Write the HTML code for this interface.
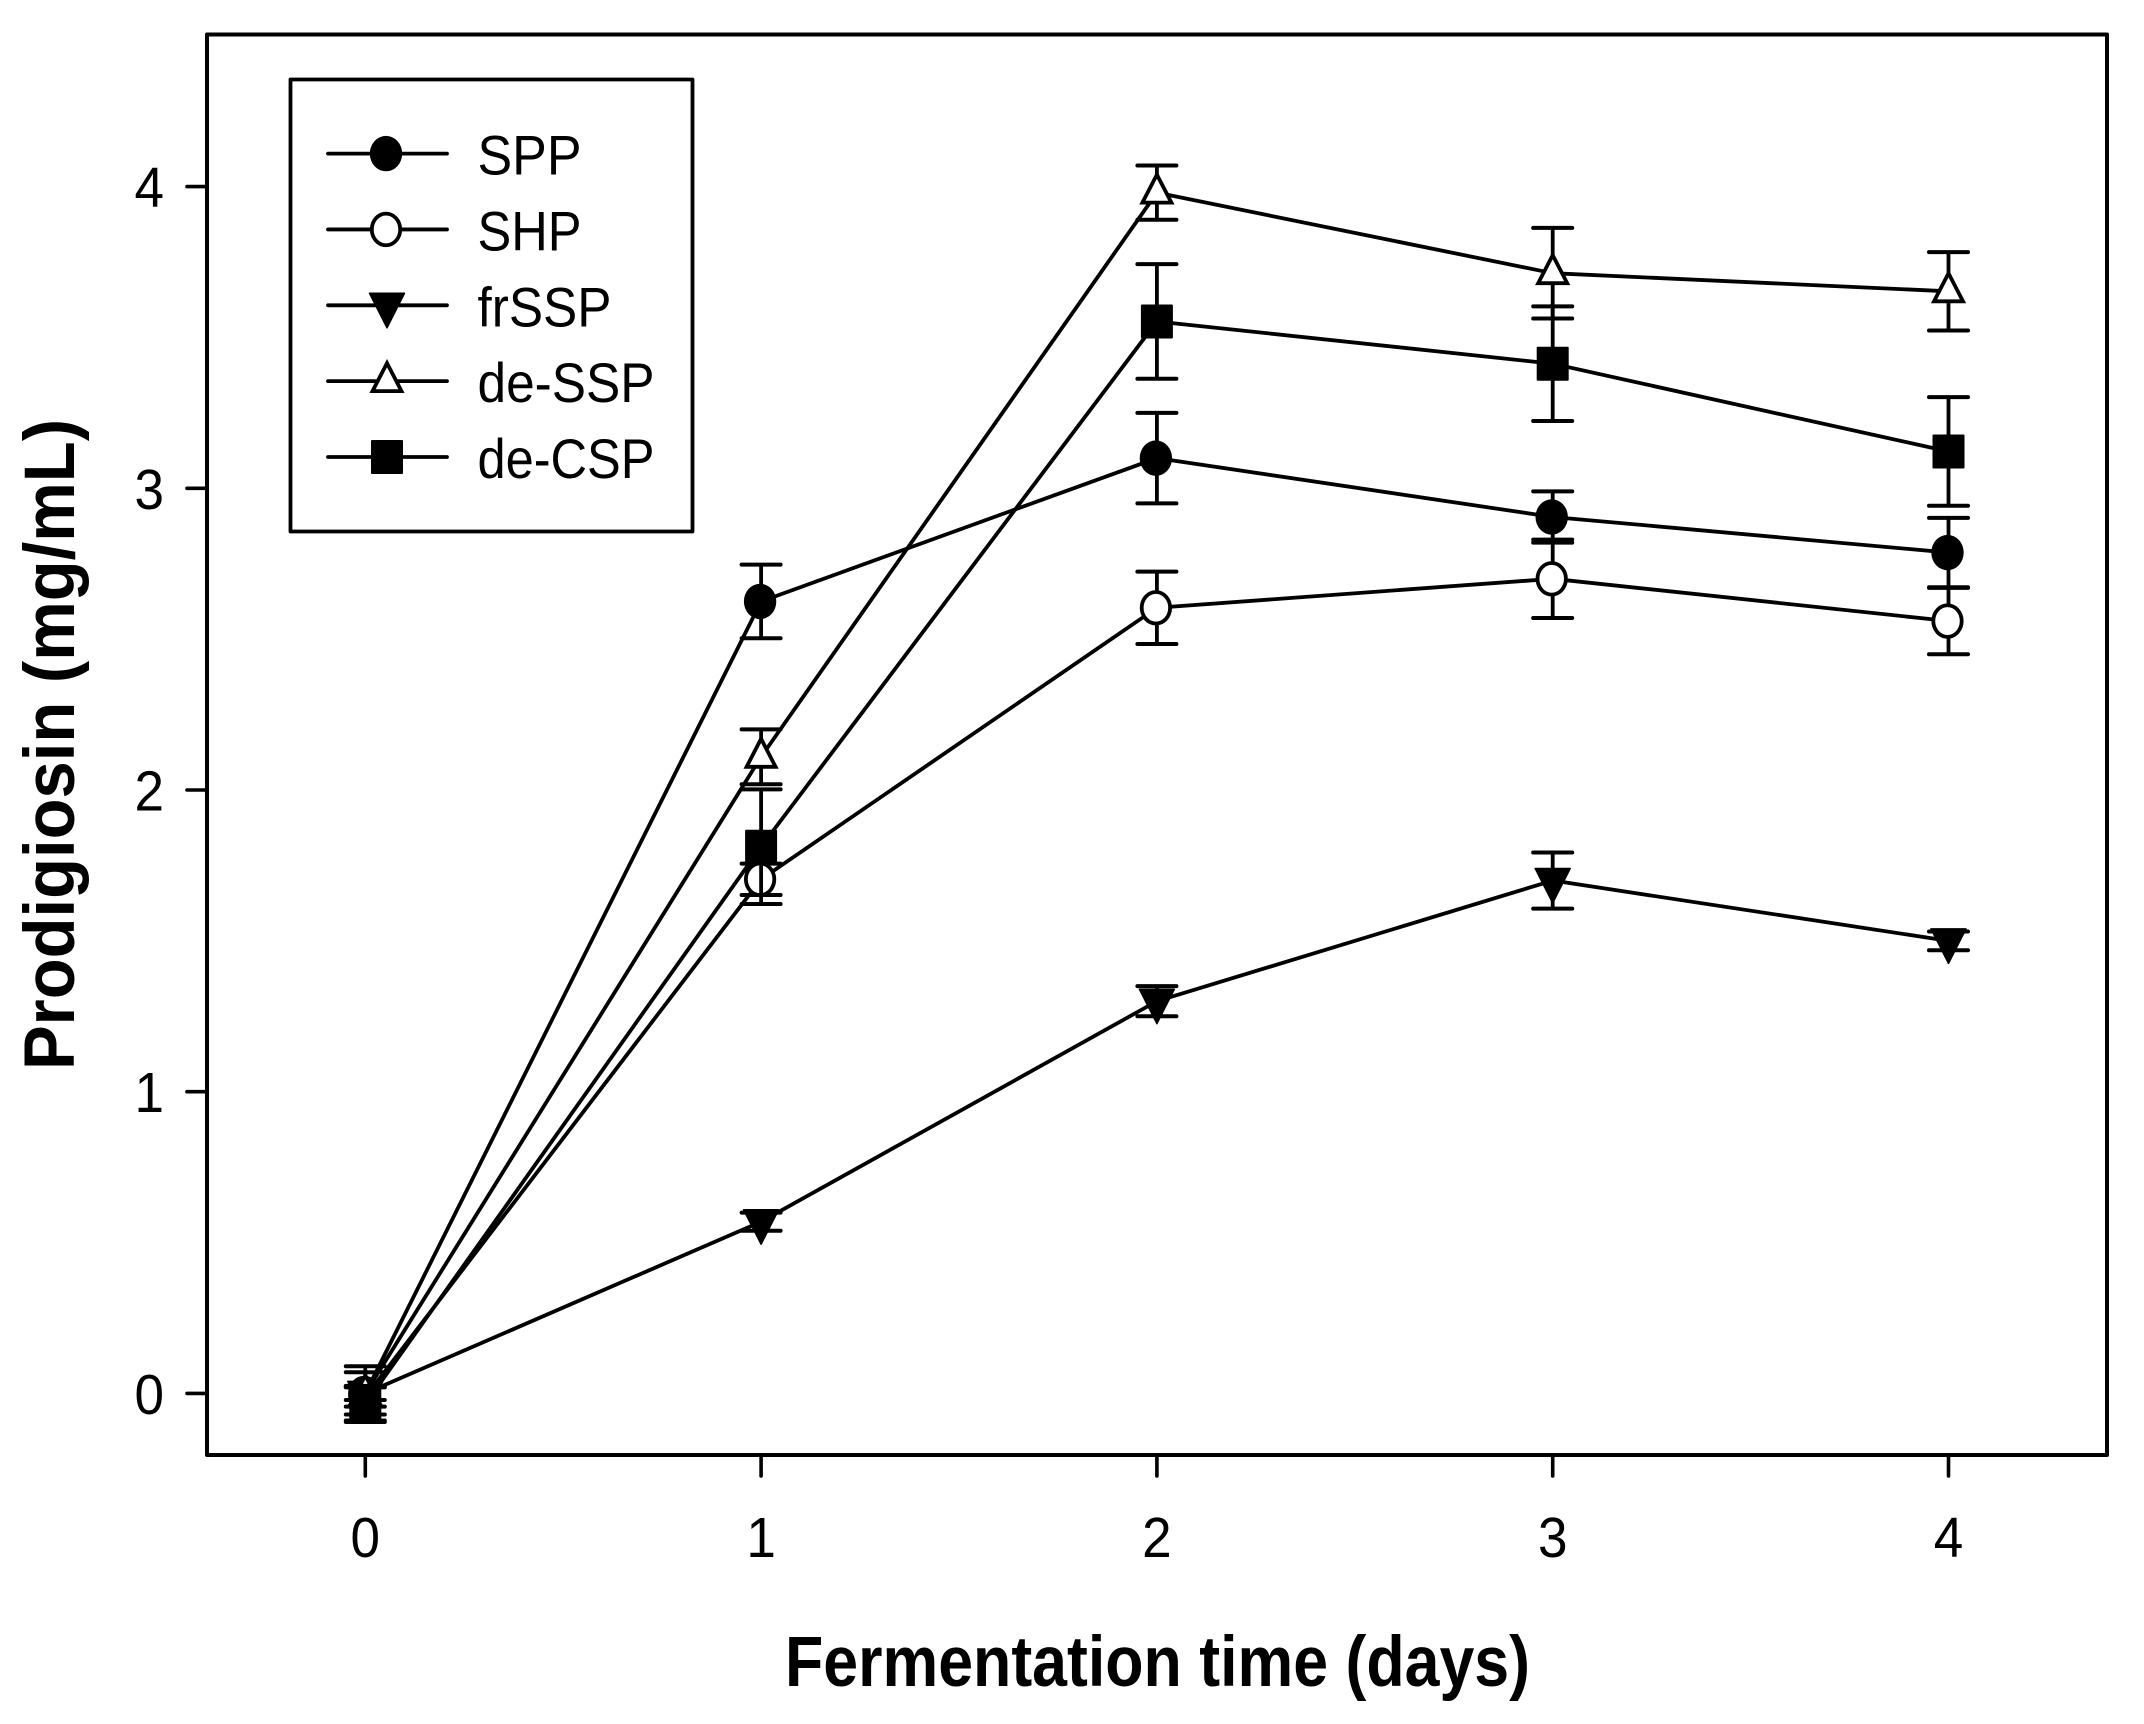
<!DOCTYPE html>
<html lang="en">
<head>
<meta charset="utf-8">
<title>Prodigiosin production over fermentation time</title>
<style>
html,body{margin:0;padding:0;background:#fff;}
svg{display:block;font-family:"Liberation Sans",Arial,sans-serif;}
</style>
</head>
<body>
<svg id="chart" xmlns="http://www.w3.org/2000/svg" width="2144" height="1724" viewBox="0 0 2144 1724">
  <rect x="0" y="0" width="2144" height="1724" fill="#fff"/>
  <g id="series-layer"></g>
  <rect x="207" y="34.5" width="1900" height="1420.5" fill="none" stroke="#000" stroke-width="4" stroke-linejoin="round"/>
  <g id="tick-layer"></g>
  <text x="785" y="1686" font-size="71" font-weight="700" textLength="745" lengthAdjust="spacingAndGlyphs">Fermentation time (days)</text>
  <text transform="translate(74,1070) rotate(-90)" x="0" y="0" font-size="71" font-weight="700" textLength="651" lengthAdjust="spacingAndGlyphs">Prodigiosin (mg/mL)</text>
  <g id="legend">
    <rect x="290.5" y="79.5" width="402" height="452" fill="#fff" stroke="#000" stroke-width="3.8" stroke-linejoin="round"/>
  </g>
</svg>
<script>
var days = [0, 1, 2, 3, 4];
var xTickLabels = ["0", "1", "2", "3", "4"];
var yTickValues = [0, 1, 2, 3, 4];
var yTickLabels = ["0", "1", "2", "3", "4"];
var seriesNames = ["SPP", "SHP", "frSSP", "de-SSP", "de-CSP"];
var sppValues = [0, 2.625, 3.10, 2.905, 2.787];
var sppErrors = [0.07, 0.122, 0.15, 0.085, 0.115];
var shpValues = [-0.012, 1.704, 2.604, 2.70, 2.56];
var shpErrors = [0.032, 0.052, 0.12, 0.13, 0.11];
var frsspValues = [0, 0.569, 1.30, 1.70, 1.50];
var frsspErrors = [0.022, 0.03, 0.05, 0.093, 0.031];
var desspValues = [0, 2.11, 3.98, 3.713, 3.653];
var desspErrors = [0.09, 0.091, 0.09, 0.15, 0.13];
var decspValues = [-0.035, 1.812, 3.553, 3.413, 3.122];
var decspErrors = [0.06, 0.19, 0.19, 0.19, 0.18];

var NS = "http://www.w3.org/2000/svg";
var X_ZERO = 365.3, X_UNIT = 395.8, Y_ZERO = 1393.4, Y_UNIT = 301.7;
var LINE_W = 3.8;

function xScale(v) { return X_ZERO + v * X_UNIT; }
function yScale(v) { return Y_ZERO - v * Y_UNIT; }

function make(tag, parent, attrs) {
  var node = document.createElementNS(NS, tag);
  for (var k in attrs) { node.setAttribute(k, attrs[k]); }
  parent.appendChild(node);
  return node;
}

function drawMarker(parent, kind, cx, cy, name) {
  var m;
  if (kind === "filled-circle" || kind === "open-circle") {
    var open = kind === "open-circle";
    m = make("ellipse", parent, {
      cx: cx - 1, cy: cy,
      rx: open ? 14.2 : 16.2, ry: open ? 15.8 : 17.7,
      fill: open ? "#fff" : "#000",
      stroke: open ? "#000" : "none",
      "stroke-width": LINE_W
    });
  } else if (kind === "filled-triangle-down") {
    m = make("path", parent, {
      d: "M" + (cx - 17.5) + " " + (cy - 12) + "H" + (cx + 17.5) + "L" + cx + " " + (cy + 22.5) + "Z",
      fill: "#000", stroke: "#000", "stroke-width": 1.5, "stroke-linejoin": "round"
    });
  } else if (kind === "open-triangle-up") {
    m = make("path", parent, {
      d: "M" + (cx - 14.5) + " " + (cy + 10) + "H" + (cx + 14.5) + "L" + cx + " " + (cy - 18) + "Z",
      fill: "#fff", stroke: "#000", "stroke-width": LINE_W, "stroke-linejoin": "miter", "stroke-miterlimit": 4
    });
  } else {
    m = make("rect", parent, {
      x: cx - 16, y: cy - 17, width: 32, height: 34,
      fill: "#000", stroke: "none", rx: 1
    });
  }
  
  
  return m;
}

var seriesList = [
  { values: sppValues, errors: sppErrors, kind: "filled-circle", id: "spp" },
  { values: shpValues, errors: shpErrors, kind: "open-circle", id: "shp" },
  { values: frsspValues, errors: frsspErrors, kind: "filled-triangle-down", id: "frssp" },
  { values: desspValues, errors: desspErrors, kind: "open-triangle-up", id: "de-ssp" },
  { values: decspValues, errors: decspErrors, kind: "filled-square", id: "de-csp" }
];

var seriesLayer = document.getElementById("series-layer");
seriesList.forEach(function (s) {
  var g = make("g", seriesLayer, {});
  
  

  days.forEach(function (d, i) {
    var x = xScale(d);
    var hi = yScale(s.values[i] + s.errors[i]);
    var lo = yScale(s.values[i] - s.errors[i]);
    var stem = make("line", g, { x1: x, x2: x, y1: hi, y2: lo, stroke: "#000", "stroke-width": LINE_W });
    
    
    var capTop = make("line", g, { x1: x - 19.5, x2: x + 19.5, y1: hi, y2: hi, stroke: "#000", "stroke-width": 4, "stroke-linecap": "round" });
    
    
    var capBottom = make("line", g, { x1: x - 19.5, x2: x + 19.5, y1: lo, y2: lo, stroke: "#000", "stroke-width": 4, "stroke-linecap": "round" });
    
    
  });

  var pts = days.map(function (d, i) { return xScale(d) + "," + yScale(s.values[i]); }).join(" ");
  var line = make("polyline", g, { points: pts, fill: "none", stroke: "#000", "stroke-width": LINE_W, "stroke-linejoin": "round" });
  
  

  days.forEach(function (d, i) {
    drawMarker(g, s.kind, xScale(d), yScale(s.values[i]), "point-" + s.id);
  });
});

var tickLayer = document.getElementById("tick-layer");
days.forEach(function (d, i) {
  var x = xScale(d);
  var t = make("line", tickLayer, { x1: x, x2: x, y1: 1455, y2: 1476, stroke: "#000", "stroke-width": 3.6, "stroke-linecap": "round" });
  
  
  var l = make("text", tickLayer, { x: x, y: 1557, "font-size": 57, "text-anchor": "middle", fill: "#000", textLength: 29.5, lengthAdjust: "spacingAndGlyphs" });
  l.textContent = xTickLabels[i];
  
  
});
yTickValues.forEach(function (v, i) {
  var y = yScale(v);
  var t = make("line", tickLayer, { x1: 187, x2: 207, y1: y, y2: y, stroke: "#000", "stroke-width": 3.6, "stroke-linecap": "round" });
  
  
  var l = make("text", tickLayer, { x: 164, y: y + 20.5, "font-size": 57, "text-anchor": "end", fill: "#000", textLength: 29.5, lengthAdjust: "spacingAndGlyphs" });
  l.textContent = yTickLabels[i];
  
  
});

var legend = document.getElementById("legend");
var legendTextWidths = [102, 102, 132, 175, 175];
seriesList.forEach(function (s, i) {
  var y = 153.6 + i * 75.85;
  var g = make("g", legend, {});
  
  
  var ln = make("line", g, { x1: 328, x2: 447, y1: y, y2: y, stroke: "#000", "stroke-width": LINE_W, "stroke-linecap": "round" });
  
  
  drawMarker(g, s.kind, 387, y, "legend-marker-" + s.id);
  var tx = make("text", g, { x: 477.5, y: y + 21, "font-size": 56, fill: "#000", textLength: legendTextWidths[i] + 2, lengthAdjust: "spacingAndGlyphs" });
  tx.textContent = seriesNames[i];
  
  
});
</script>
</body>
</html>
